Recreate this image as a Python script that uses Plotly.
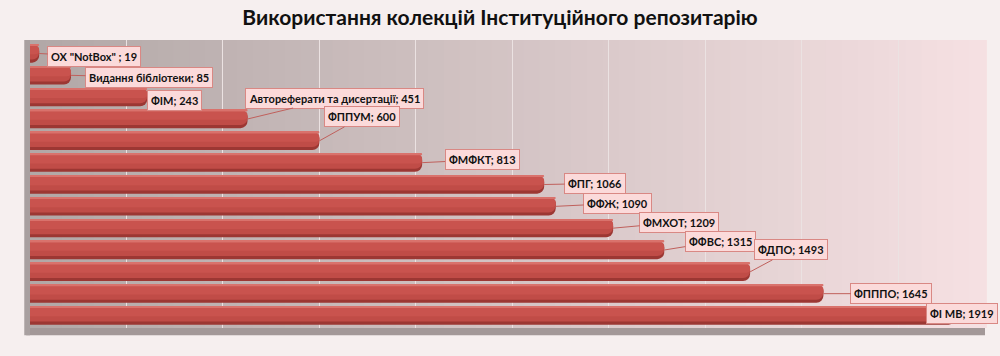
import plotly.graph_objects as go

categories = ['ОХ "NotBox" ', 'Видання бібліотеки', 'ФІМ', 'Автореферати та дисертації',
              'ФППУМ', 'ФМФКТ', 'ФПГ', 'ФФЖ', 'ФМХОТ', 'ФФВС', 'ФДПО', 'ФПППО', 'ФІ МВ']
values = [19, 85, 243, 451, 600, 813, 1066, 1090, 1209, 1315, 1493, 1645, 1919]
title_text = "Використання колекцій Інституційного репозитарію"

# label offsets (pixels) relative to bar end
label_dx = [55, 78, 27, 87, 43, 60, 51, 62, 66, 56, 41, 68, 6]
label_dy = [3, 2, 3, -21, -24, -3, -1, -3, -6, -9, -22, 0, -2]

fig = go.Figure()
layers = [
    dict(color="#9c3733", width=0.84, offset=-0.42, r=7),
    dict(color="#c04c47", width=0.70, offset=-0.42, r=7),
    dict(color="#c9534e", width=0.40, offset=-0.36, r=6),
    dict(color="#d9726c", width=0.08, offset=-0.42, r=3),
]
for L in layers:
    fig.add_trace(go.Bar(
        x=values, y=categories, orientation="h",
        marker=dict(color=L["color"], line=dict(width=0), cornerradius=L["r"]),
        width=L["width"], offset=L["offset"], hoverinfo="skip", showlegend=False,
    ))

# background gradient
shapes = []
n = 60
c0 = (178, 168, 167)
c1 = (245, 224, 226)
for i in range(n):
    t = i / (n - 1)
    c = tuple(int(round(c0[k] + (c1[k] - c0[k]) * t)) for k in range(3))
    shapes.append(dict(type="rect", xref="x domain", yref="y domain",
                       x0=i / n, x1=(i + 1) / n + 0.002, y0=0, y1=1,
                       fillcolor="rgb(%d,%d,%d)" % c, line=dict(width=0), layer="below"))
# floor and side wall
shapes.append(dict(type="rect", xref="x domain", yref="y domain", x0=-0.004, x1=1.0,
                   y0=-0.025, y1=0, fillcolor="#a39898", line=dict(width=0), layer="below"))
shapes.append(dict(type="rect", xref="x domain", yref="y domain", x0=-0.006, x1=0,
                   y0=-0.025, y1=1, fillcolor="#a8a0a0", line=dict(width=0), layer="below"))

annotations = []
for cat, v, dx, dy in zip(categories, values, label_dx, label_dy):
    annotations.append(dict(
        x=v, y=cat, xref="x", yref="y",
        text="<b>%s; %d</b>" % (cat, v),
        showarrow=True, arrowhead=0, arrowwidth=1, arrowcolor="#c0605c",
        ax=dx, ay=dy, standoff=0, startstandoff=0,
        font=dict(family="Lato", size=11, color="#111111"),
        bgcolor="#fbdada", bordercolor="#d98884", borderwidth=1, borderpad=3,
    ))

fig.update_layout(
    width=1000, height=356,
    margin=dict(l=30, r=15, t=40, b=28),
    paper_bgcolor="#f6efef",
    plot_bgcolor="rgba(0,0,0,0)",
    barmode="overlay",
    title=dict(text="<b>%s</b>" % title_text, x=0.5, xanchor="center",
               yref="container", y=0.95, yanchor="middle",
               font=dict(family="Lato", size=21, color="#111111")),
    xaxis=dict(range=[0, 1980], dtick=200, showgrid=True, gridcolor="#ebe2e2", gridwidth=1,
               showticklabels=False, zeroline=False, showline=False, fixedrange=True),
    yaxis=dict(autorange="reversed", showticklabels=False, showgrid=False,
               zeroline=False, showline=False, fixedrange=True),
    shapes=shapes,
    annotations=annotations,
)

fig.write_html("out.html", config={"displayModeBar": False},
               post_script="document.body.style.margin='0';document.body.style.background='#f6efef';")
